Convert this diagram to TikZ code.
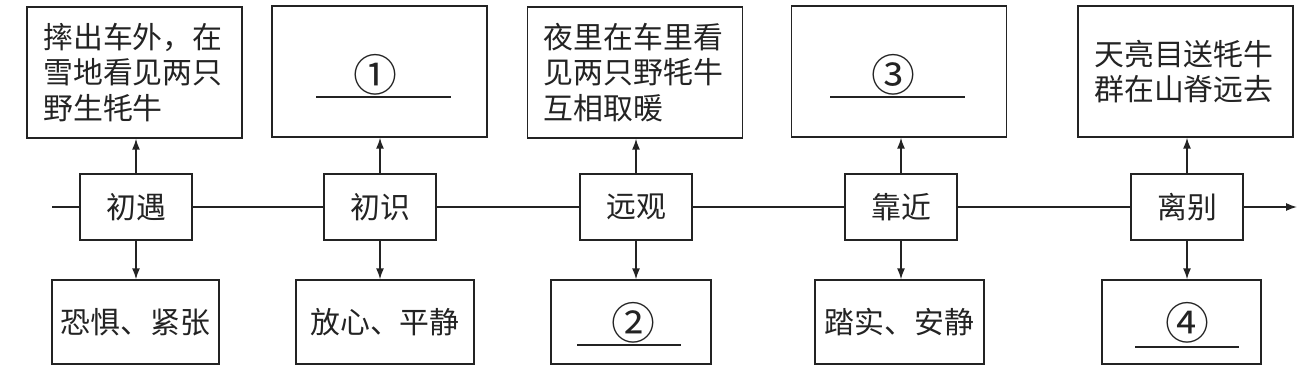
\documentclass[tikz,border=0pt]{standalone}
\usepackage{fontspec}
\setmainfont{Noto Sans CJK SC}
\usetikzlibrary{arrows.meta,positioning}
\definecolor{pencil}{RGB}{35,35,35}
\tikzset{
  >={Latex[length=2.2mm,width=1.6mm]},
  frame/.style={draw=pencil,line width=0.8pt,inner sep=0pt,text=pencil,
    font=\fontsize{17pt}{20pt}\selectfont},
  scene/.style={frame,minimum width=4.3cm,minimum height=2.62cm,text width=3.65cm,align=left},
  stage/.style={frame,minimum width=2.24cm,minimum height=1.32cm},
  mood/.style={frame,minimum width=#1,minimum height=1.68cm},
  mood/.default=3.3cm,
  blank/.style={inner sep=0pt,text=pencil,font=\fontsize{25pt}{28pt}\selectfont},
  flow/.style={->,draw=pencil,line width=0.8pt},
  track/.style={draw=pencil,line width=0.8pt},
}

\begin{document}
\begin{tikzpicture}[x=0.02cm,y=-0.02cm]
  \useasboundingbox (0,0) rectangle (1308,371);
  % stages on the line
  \node[stage] (m1) at (136,207) {初遇};
  \node[stage] (m2) at (380,207) {初识};
  \node[stage] (m3) at (636,207) {远观};
  \node[stage] (m4) at (901,207) {靠近};
  \node[stage] (m5) at (1187,207) {离别};
  \coordinate (start) at (52,207);
  \coordinate (end) at (1297,207);
  \draw[track] (start) -- (m1) (m1) -- (m2) (m2) -- (m3) (m3) -- (m4) (m4) -- (m5);
  \draw[flow] (m5) -- (end);
  % what happens
  \node[scene] (t1) at (134.5,72.5) {摔出车外，在\\雪地看见两只\\野生牦牛};
  \node[scene] (t2) at (379.5,71.5) {};
  \node[scene] (t3) at (635,72.5) {夜里在车里看\\见两只野牦牛\\互相取暖};
  \node[scene] (t4) at (899,71.5) {};
  \node[scene] (t5) at (1185.5,71.5) {天亮目送牦牛\\群在山脊远去};
  % how it feels
  \node[mood=3.34cm] (b1) at (135.5,322) {恐惧、紧张};
  \node[mood=3.56cm] (b2) at (385,322) {放心、平静};
  \node[mood=3.2cm] (b3) at (631,322) {};
  \node[mood=3.38cm] (b4) at (899.5,322) {踏实、安静};
  \node[mood=3.18cm] (b5) at (1181.5,322) {};
  \foreach \i in {1,...,5} {
    \draw[flow] (m\i.north) -- (m\i.north |- t\i.south);
    \draw[flow] (m\i.south) -- (m\i.south |- b\i.north);
  }
  % blanks
  \node[blank] (q1) at (375,75) {①};
  \draw[track] (316,97) -- (451,97);
  \node[blank] (q3) at (893,75) {③};
  \draw[track] (830,97) -- (965,97);
  \node[blank] (q2) at (633,323) {②};
  \draw[track] (577,345) -- (681,345);
  \node[blank] (q4) at (1187,323) {④};
  \draw[track] (1135,347) -- (1239,347);
\end{tikzpicture}
\end{document}
